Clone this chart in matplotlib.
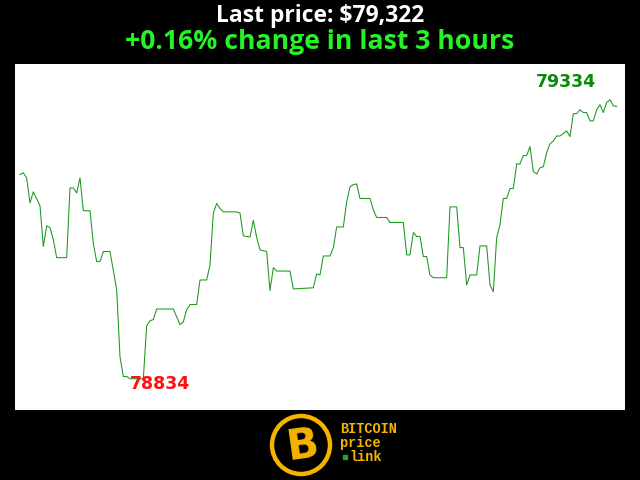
import numpy as np
import matplotlib
matplotlib.use("Agg")
import matplotlib.pyplot as plt
from matplotlib.patches import Circle

# ---------------------------------------------
# DATA - price every minute (last 3 hours)
# ---------------------------------------------
minutes = [0, 1, 2, 3, 4, 6, 7, 8, 9, 10, 11, 14, 15, 16, 17, 18, 19, 21, 22, 23,
           24, 25, 27, 29, 30, 31, 32, 33, 37, 38, 39, 40, 41, 46, 47, 48, 49, 50, 51, 53,
           54, 56, 57, 58, 59, 60, 61, 65, 66, 67, 69, 70, 71, 72, 74, 75, 76, 77, 81, 82,
           88, 89, 90, 91, 93, 94, 95, 97, 98, 99, 100, 101, 102, 105, 106, 107, 110, 111, 115, 116,
           117, 118, 119, 120, 121, 122, 123, 124, 128, 129, 131, 132, 133, 134, 135, 137, 138, 140, 141, 142,
           143, 144, 145, 146, 147, 148, 149, 150, 151, 152, 153, 154, 155, 156, 157, 158, 159, 160, 161, 162,
           164, 165, 166, 167, 168, 169, 170, 171, 172, 173, 174, 175, 176, 177, 178, 179]
prices = [79200, 79203, 79194, 79149, 79169, 79144, 79071, 79108, 79105, 79083, 79051, 79051, 79176, 79176, 79167, 79194, 79135, 79135, 79076, 79044,
          79044, 79062, 79062, 78994, 78873, 78838, 78838, 78834, 78834, 78929, 78938, 78940, 78959, 78959, 78945, 78931, 78936, 78958, 78967, 78967,
          79011, 79011, 79038, 79131, 79148, 79139, 79133, 79133, 79131, 79090, 79088, 79118, 79087, 79065, 79062, 78992, 79033, 79027, 79027, 78995,
          78997, 79022, 79020, 79054, 79054, 79069, 79106, 79106, 79151, 79178, 79182, 79183, 79157, 79157, 79137, 79123, 79123, 79114, 79114, 79056,
          79056, 79096, 79089, 79089, 79053, 79053, 79020, 79015, 79015, 79142, 79142, 79069, 79069, 79002, 79020, 79020, 79072, 79072, 79002, 78990,
          79087, 79110, 79157, 79157, 79175, 79175, 79219, 79219, 79234, 79234, 79250, 79205, 79201, 79212, 79214, 79239, 79255, 79260, 79269, 79269,
          79278, 79268, 79309, 79309, 79316, 79311, 79311, 79296, 79296, 79316, 79325, 79311, 79329, 79334, 79323, 79322]

last_price = prices[-1]
change_pct = 0.16

line_green = '#1c961c'
title_green = '#26F226'
gold = '#F4B400'

# ---------------------------------------------
# FIGURE
# ---------------------------------------------
fig = plt.figure(figsize=(6.4, 4.8), dpi=100)
fig.patch.set_facecolor('black')

fig.text(0.5, 1 - 16 / 480, f"Last price: ${last_price:,}", color='white',
         fontsize=16.5, fontweight='bold', family='Open Sans', ha='center', va='center')
fig.text(0.5, 1 - 42 / 480, f"+{change_pct:.2f}% change in last 3 hours", color=title_green,
         fontsize=19.2, fontweight='bold', family='Open Sans', ha='center', va='center')

ax = fig.add_axes([15 / 640, 70 / 480, 610 / 640, 346 / 480])
ax.set_facecolor('white')
ax.plot(minutes, prices, color=line_green, linewidth=0.75)
ax.set_xlim(-1.5, 181.5)
ax.set_ylim(78778, 79398)
ax.set_xticks([])
ax.set_yticks([])
for s in ax.spines.values():
    s.set_visible(False)

# max / min labels
imax = int(np.argmax(prices))
imin = int(np.argmin(prices))
ax.annotate(str(prices[imax]), (minutes[imax], prices[imax]), xytext=(-14, 9),
            textcoords='offset pixels', ha='right', va='bottom',
            color='#0a8a0a', fontsize=12.5, fontweight='bold')
ax.annotate(str(prices[imin]), (minutes[imin], prices[imin]), xytext=(0, -5),
            textcoords='offset pixels', ha='left', va='center',
            color='#ff1010', fontsize=12.5, fontweight='bold')

# ---------------------------------------------
# LOGO
# ---------------------------------------------
lg = fig.add_axes([265 / 640, 0, 140 / 640, 70 / 480])
lg.set_xlim(265, 405)
lg.set_ylim(480, 410)
lg.axis('off')
lg.add_patch(Circle((301, 445), 29, fill=False, edgecolor=gold, linewidth=3.2))
lg.text(302, 446, "B", color=gold, fontsize=30, fontweight='bold',
        ha='center', va='center', rotation=8, family='DejaVu Sans')
for txt, yy in [("BITCOIN", 429), ("price", 443)]:
    lg.text(340, yy, txt, color=gold, fontsize=9.8, fontweight='bold',
            family='Liberation Mono', ha='left', va='center')
lg.text(350, 457, "link", color=gold, fontsize=9.8, fontweight='bold',
        family='Liberation Mono', ha='left', va='center')
lg.plot([344.5], [457], marker='s', markersize=2.5, color='#2aa02a')

plt.savefig("out.png", dpi=100, facecolor='black')
